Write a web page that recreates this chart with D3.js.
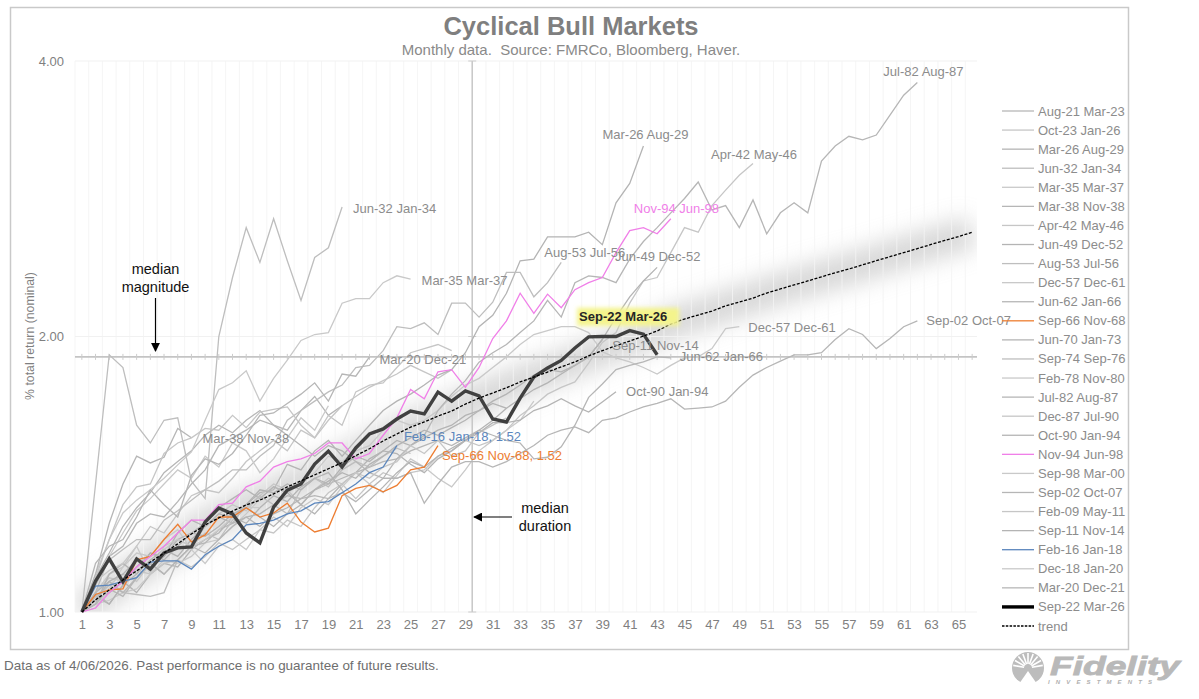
<!DOCTYPE html>
<html>
<head>
<meta charset="utf-8">
<script src="https://cdn.jsdelivr.net/npm/d3@7"></script>
<style>
    html, body { margin: 0; padding: 0; background: #fff; }
    text { font-family: "Liberation Sans", Arial, sans-serif; }
</style>
</head>
<body>
<svg id="chart" width="1199" height="699"></svg>
<script>

// Values are cumulative return multiples, one per month since the market low
const aug21 = [1,1.09,1.16,1.24,1.30,1.35,1.42,1.46,1.50,1.56,1.60,1.57,1.62,1.66,1.60,1.58,1.66,1.72,1.64,1.68];
const oct23 = [1,1.05,1.10,1.12,1.18,1.24,1.22,1.28,1.34,1.36,1.35,1.40,1.46,1.50,1.54,1.50,1.58,1.55,1.62,1.68,1.72,1.76,1.79,1.82,1.86,1.83,1.80,1.84];
const mar26 = [1,1.05,1.02,1.07,1.10,1.14,1.17,1.15,1.20,1.24,1.27,1.25,1.31,1.35,1.36,1.45,1.43,1.50,1.54,1.48,1.54,1.60,1.66,1.70,1.73,1.77,1.815,1.84,1.92,2.05,2.11,2.23,2.42,2.43,2.57,2.57,2.57,2.60,2.52,2.80,2.94,3.23];
const jun32 = [1,1.38,1.91,1.85,1.60,1.53,1.62,1.63,1.39,1.33,2.0,2.32,2.63,2.41,2.69,2.42,2.19,2.44,2.50,2.77];
const mar35 = [1,1.10,1.2,1.283,1.325,1.36,1.40,1.448,1.496,1.62,1.75,1.78,1.835,1.70,1.80,1.885,1.98,2.01,2.02,2.175,2.20,2.20,2.29,2.33,2.31];
const mar38 = [1,1.10,1.25,1.38,1.48,1.455,1.476,1.587,1.55];
const apr42 = [1,1.03,1.07,1.10,1.08,1.13,1.17,1.20,1.18,1.24,1.28,1.31,1.29,1.34,1.38,1.36,1.31,1.36,1.40,1.38,1.33,1.38,1.42,1.40,1.42,1.43,1.48,1.50,1.54,1.52,1.54,1.58,1.64,1.68,1.73,1.76,1.784,1.87,1.97,2.02,2.175,2.30,2.32,2.47,2.63,2.60,2.78,2.89,3.0,3.09];
const jun49 = [1,1.03,1.05,1.08,1.05,1.10,1.13,1.12,1.17,1.2,1.22,1.27,1.25,1.3,1.34,1.32,1.37,1.4,1.38,1.44,1.48,1.46,1.5,1.54,1.52,1.55,1.58,1.6,1.64,1.66,1.70,1.73,1.77,1.815,1.84,1.83,1.86,1.90,1.985,2.10,2.21,2.30,2.38];
const aug53 = [1,1.07,1.14,1.17,1.2,1.2,1.26,1.29,1.325,1.36,1.39,1.43,1.43,1.48,1.52,1.62,1.66,1.70,1.74,1.77,1.85,1.86,1.93,2.05,2.04,2.07,2.01,2.175,2.175,2.10,2.18,2.35,2.35,2.21,2.29,2.41];
const dec57 = [1,1.02,1.03,1.05,1.06,1.10,1.14,1.13,1.15,1.19,1.20,1.24,1.28,1.33,1.37,1.35,1.38,1.42,1.48,1.46,1.50,1.52,1.58,1.62,1.60,1.62,1.66,1.72,1.77,1.80,1.85,1.90,1.96,2.01,2.03,2.05,2.05,2.02,1.925,1.895,1.876,1.85,1.82,1.86,1.895,1.90,1.94,2.04,2.05];
const jun62 = [1,1.02,1.06,1.04,1.09,1.13,1.10,1.14,1.18,1.19,1.23,1.25,1.27,1.28,1.31,1.34,1.33,1.36,1.38,1.40,1.42,1.44,1.46,1.47,1.50,1.52,1.54,1.52,1.55,1.58,1.56,1.54,1.53,1.47,1.476,1.515,1.60,1.716,1.775,1.84,1.86,1.876,1.90,1.895];
const sep66 = [1,1.045,1.057,1.06,1.14,1.15,1.2,1.247,1.193,1.214,1.27,1.27,1.30,1.27,1.283,1.315,1.254,1.223,1.235,1.34,1.365,1.375,1.353,1.375,1.43,1.44,1.52];
const jun70 = [1,1.04,1.02,1.07,1.12,1.16,1.14,1.18,1.22,1.25,1.30,1.33,1.36,1.33,1.37,1.35,1.31,1.28,1.33,1.38,1.42,1.47,1.50,1.49,1.45,1.42,1.47,1.50,1.54,1.58,1.62,1.67];
const sep74 = [1,1.04,1.07,1.05,1.045,1.04,1.05,1.14,1.18,1.22,1.20,1.26,1.30,1.34,1.31,1.28,1.36,1.40,1.37,1.43,1.46,1.44,1.48,1.51,1.49];
const feb78 = [1,1.01,1.06,1.12,1.16,1.15,1.20,1.23,1.17,1.13,1.18,1.20,1.17,1.23,1.27,1.24,1.30,1.33,1.31,1.37,1.42,1.38,1.35,1.41,1.47,1.44,1.40,1.37,1.43,1.50,1.54,1.58,1.62,1.70];
const jul82 = [1,1.05,1.15,1.18,1.25,1.28,1.27,1.32,1.38,1.43,1.52,1.55,1.58,1.62,1.60,1.56,1.52,1.48,1.52,1.50,1.46,1.42,1.40,1.47,1.52,1.56,1.66,1.73,1.79,1.875,1.92,1.96,2.02,2.08,2.19,2.10,2.29,2.33,2.32,2.29,2.43,2.54,2.63,2.73,2.83,2.95,2.75,2.78,2.63,2.82,2.59,2.73,2.80,2.73,3.11,3.23,3.31,3.28,3.32,3.49,3.67,3.79];
const dec87 = [1,1.05,1.09,1.08,1.11,1.10,1.13,1.14,1.12,1.15,1.19,1.17,1.20,1.23,1.22,1.26,1.24,1.30,1.35,1.38,1.42,1.40,1.44,1.46,1.52,1.49,1.54,1.48,1.50,1.57,1.60,1.63];
const oct90 = [1,1.02,1.10,1.13,1.10,1.16,1.15,1.22,1.26,1.24,1.28,1.27,1.31,1.36,1.35,1.38,1.36,1.40,1.42,1.36,1.28,1.325,1.37,1.42,1.46,1.44,1.48,1.51,1.54,1.57,1.61,1.61,1.62,1.66,1.68,1.71,1.68,1.654,1.696,1.74];
const nov94 = [1,1.01,1.05,1.08,1.12,1.15,1.18,1.22,1.26,1.26,1.31,1.315,1.37,1.39,1.44,1.46,1.47,1.49,1.53,1.53,1.47,1.49,1.56,1.63,1.75,1.71,1.83,1.84,1.76,1.85,1.99,2.08,2.23,2.12,2.225,2.15,2.25,2.29,2.32,2.47,2.61,2.63,2.59,2.69];
const sep98 = [1,1.08,1.15,1.22,1.29,1.33,1.38,1.43,1.40,1.48,1.44,1.53,1.50,1.42,1.47,1.55,1.63,1.58,1.68];
const sep02 = [1,1.03,1.08,1.05,1.09,1.13,1.10,1.14,1.18,1.16,1.20,1.24,1.27,1.24,1.28,1.30,1.33,1.34,1.33,1.35,1.32,1.36,1.40,1.40,1.42,1.315,1.38,1.44,1.46,1.46,1.44,1.46,1.49,1.52,1.56,1.58,1.593,1.57,1.62,1.63,1.654,1.675,1.69,1.71,1.666,1.67,1.675,1.70,1.76,1.815,1.85,1.88,1.91,1.91,1.92,1.985,2.04,2.01,1.94,1.99,2.05,2.08];
const feb09 = [1,1.09,1.20,1.31,1.37,1.38,1.49,1.53,1.55,1.587,1.58,1.64,1.59,1.654,1.665,1.675,1.60,1.55,1.64,1.60,1.74,1.77,1.78,1.85,1.92,1.94,1.96,1.93];
const sep11 = [1,1.05,1.08,1.10,1.14,1.12,1.15,1.20,1.22,1.21,1.24,1.28,1.30,1.27,1.24,1.28,1.31,1.36,1.39,1.42,1.40,1.45,1.48,1.52,1.55,1.58,1.56,1.59,1.62,1.66,1.69,1.67,1.71,1.75,1.78,1.82,1.86,1.90,1.985];
const feb16 = [1,1.067,1.07,1.08,1.09,1.134,1.137,1.137,1.114,1.155,1.18,1.20,1.245,1.25,1.26,1.28,1.29,1.315,1.32,1.35,1.38,1.42,1.44,1.52];
const dec18 = [1,1.08,1.11,1.13,1.18,1.10,1.18,1.20,1.18,1.20,1.23,1.27,1.30,1.30];
const mar20 = [1,1.13,1.18,1.20,1.27,1.36,1.31,1.27,1.41,1.47,1.45,1.49,1.56,1.64,1.65,1.69,1.73,1.78,1.70,1.82,1.81,1.90];
const sep22 = [1,1.081,1.143,1.079,1.143,1.114,1.16,1.175,1.178,1.254,1.299,1.280,1.220,1.190,1.302,1.359,1.380,1.451,1.499,1.440,1.511,1.565,1.585,1.625,1.658,1.646,1.739,1.70,1.744,1.722,1.625,1.613,1.713,1.806,1.848,1.883,1.943,1.998,2.0,2.0,2.03,2.012,1.910];
const trend = [1,1.031,1.057,1.084,1.109,1.134,1.160,1.187,1.217,1.245,1.267,1.289,1.309,1.325,1.346,1.370,1.391,1.412,1.434,1.456,1.482,1.508,1.538,1.565,1.592,1.613,1.637,1.658,1.687,1.713,1.735,1.758,1.784,1.806,1.829,1.853,1.876,1.905,1.930,1.954,1.977,2.002,2.028,2.064,2.090,2.111,2.132,2.160,2.181,2.203,2.231,2.254,2.277,2.300,2.324,2.348,2.370,2.395,2.420,2.445,2.470,2.495,2.521,2.547,2.571,2.600];

const seriesNames = [
    'Aug-21 Mar-23','Oct-23 Jan-26','Mar-26 Aug-29','Jun-32 Jan-34','Mar-35 Mar-37','Mar-38 Nov-38','Apr-42 May-46',
    'Jun-49 Dec-52','Aug-53 Jul-56','Dec-57 Dec-61','Jun-62 Jan-66','Sep-66 Nov-68','Jun-70 Jan-73','Sep-74 Sep-76',
    'Feb-78 Nov-80','Jul-82 Aug-87','Dec-87 Jul-90','Oct-90 Jan-94','Nov-94 Jun-98','Sep-98 Mar-00','Sep-02 Oct-07',
    'Feb-09 May-11','Sep-11 Nov-14','Feb-16 Jan-18','Dec-18 Jan-20','Mar-20 Dec-21','Sep-22 Mar-26'
];
const seriesValues = [
    aug21,oct23,mar26,jun32,mar35,mar38,apr42,jun49,aug53,dec57,jun62,sep66,jun70,sep74,
    feb78,jul82,dec87,oct90,nov94,sep98,sep02,feb09,sep11,feb16,dec18,mar20,sep22
];

const xTicks = d3.range(1, 66, 2);
const yTicks = [1, 2, 4];
const gridMonths = d3.range(0.5, 67, 1);
const errorMonths = d3.range(1, 67, 1);
const medianMagnitude = 1.9;
const medianDuration = 29.5;

const ORANGE = '#ed7d31';
const MAGENTA = '#f07fe8';
const BLUE = '#5b86bd';
const GREYS = ['#b6b6b6', '#c6c6c6', '#b4b4b4', '#bebebe', '#c9c9c9'];

// where each end of line label sits, relative to the last point
const endLabels = [
    { name: 'Jul-82 Aug-87', dx: -34, dy: -11 },
    { name: 'Mar-26 Aug-29', dx: -41, dy: -11 },
    { name: 'Apr-42 May-46', dx: -42, dy: -9 },
    { name: 'Jun-32 Jan-34', dx: 11, dy: 1 },
    { name: 'Nov-94 Jun-98', dx: -37, dy: -10, color: MAGENTA },
    { name: 'Mar-35 Mar-37', dx: 11, dy: 1 },
    { name: 'Aug-53 Jul-56', dx: -17, dy: -10 },
    { name: 'Jun-49 Dec-52', dx: -42, dy: -11 },
    { name: 'Dec-57 Dec-61', dx: 9, dy: 1 },
    { name: 'Sep-02 Oct-07', dx: 9, dy: 0 },
    { name: 'Sep-11 Nov-14', dx: 10, dy: 6 },
    { name: 'Jun-62 Jan-66', dx: 9, dy: -1 },
    { name: 'Mar-20 Dec-21', dx: 10, dy: 3 },
    { name: 'Oct-90 Jan-94', dx: 10, dy: 0 },
    { name: 'Mar-38 Nov-38', dx: 11, dy: 1 },
    { name: 'Feb-16 Jan-18', suffix: ', 1.52', dx: 7, dy: -9, color: BLUE },
    { name: 'Sep-66 Nov-68', suffix: ', 1.52', dx: 4, dy: 10, color: ORANGE }
];

const svg = d3.select('#chart');

const x = d3.scaleLinear().domain([0.5, 66.5]).range([75, 979]);
const y = d3.scaleLog().base(2).domain([1, 4]).range([612, 61]);

const line = d3.line()
    .x((d, i) => x(i + 1))
    .y(d => y(d));

const defs = svg.append('defs');
defs.append('filter')
    .attr('id', 'glow')
    .attr('filterUnits', 'userSpaceOnUse')
    .attr('x', 0).attr('y', 0).attr('width', 1199).attr('height', 699)
    .append('feGaussianBlur')
    .attr('stdDeviation', 11);
defs.append('filter')
    .attr('id', 'soft')
    .attr('x', '-20%').attr('y', '-40%').attr('width', '140%').attr('height', '180%')
    .append('feGaussianBlur')
    .attr('stdDeviation', 2);
defs.append('clipPath')
    .attr('id', 'plotClip')
    .append('rect')
    .attr('x', 75).attr('y', 61).attr('width', 902).attr('height', 551);

// outer frame
svg.append('rect')
    .attr('x', 10.5).attr('y', 7.5)
    .attr('width', 1118).attr('height', 642)
    .attr('fill', '#fff')
    .attr('stroke', '#c9c9c9')
    .attr('stroke-width', 1.5);

svg.append('text')
    .attr('x', 571).attr('y', 35)
    .attr('text-anchor', 'middle')
    .attr('font-size', 25.5)
    .attr('font-weight', 'bold')
    .attr('fill', '#7f7f7f')
    .text('Cyclical Bull Markets');

svg.append('text')
    .attr('x', 571).attr('y', 55)
    .attr('text-anchor', 'middle')
    .attr('font-size', 15)
    .attr('fill', '#8a8a8a')
    .text('Monthly data.\u00a0\u00a0Source: FMRCo, Bloomberg, Haver.');

// glow behind the trend
svg.append('g')
    .attr('clip-path', 'url(#plotClip)')
    .append('path')
    .datum(trend)
    .attr('d', line)
    .attr('fill', 'none')
    .attr('stroke', '#bdbdbd')
    .attr('stroke-width', 32)
    .attr('opacity', 0.6)
    .attr('filter', 'url(#glow)');

// light grid
svg.append('g')
    .selectAll('line')
    .data(gridMonths.filter(d => d <= 66))
    .join('line')
    .attr('x1', d => x(d)).attr('x2', d => x(d))
    .attr('y1', y(4)).attr('y2', y(1))
    .attr('stroke', '#f3f3f3')
    .attr('stroke-opacity', 0.85);

svg.append('g')
    .selectAll('line')
    .data(yTicks)
    .join('line')
    .attr('x1', 75).attr('x2', 977)
    .attr('y1', d => y(d)).attr('y2', d => y(d))
    .attr('stroke', '#f1f1f1');

// median markers
svg.append('line')
    .attr('x1', 75).attr('x2', 977)
    .attr('y1', y(medianMagnitude)).attr('y2', y(medianMagnitude))
    .attr('stroke', '#c4c4c4')
    .attr('stroke-width', 1.6);

svg.append('g')
    .selectAll('line')
    .data(errorMonths)
    .join('line')
    .attr('x1', d => x(d)).attr('x2', d => x(d))
    .attr('y1', y(medianMagnitude) - 3).attr('y2', y(medianMagnitude) + 3)
    .attr('stroke', '#cccccc');

svg.append('line')
    .attr('x1', x(medianDuration)).attr('x2', x(medianDuration))
    .attr('y1', y(4)).attr('y2', y(1))
    .attr('stroke', '#c4c4c4')
    .attr('stroke-width', 1.4);

[4, 1, 2].forEach(v => {
    svg.append('line')
        .attr('x1', x(medianDuration) - 4).attr('x2', x(medianDuration) + 4)
        .attr('y1', y(v)).attr('y2', y(v))
        .attr('stroke', '#cccccc');
});

function seriesStyle(name, i) {
    if (name === 'Sep-66 Nov-68') return { color: ORANGE, width: 1.3 };
    if (name === 'Nov-94 Jun-98') return { color: MAGENTA, width: 1.3 };
    if (name === 'Feb-16 Jan-18') return { color: BLUE, width: 1.3 };
    if (name === 'Sep-22 Mar-26') return { color: '#404040', width: 3.4 };
    return { color: GREYS[i % GREYS.length], width: 1.3 };
}

const series = seriesNames.map((name, i) => ({
    name: name,
    values: seriesValues[i],
    style: seriesStyle(name, i)
}));

// highlighted lines go on top of the grey ones
const drawOrder = series.slice().sort((a, b) => {
    const rank = s => s.name === 'Sep-22 Mar-26' ? 2 : (GREYS.includes(s.style.color) ? 0 : 1);
    return rank(a) - rank(b);
});

svg.append('g')
    .attr('fill', 'none')
    .attr('stroke-linejoin', 'miter')
    .selectAll('path')
    .data(drawOrder)
    .join('path')
    .attr('d', d => line(d.values))
    .attr('stroke', d => d.style.color)
    .attr('stroke-width', d => d.style.width);

svg.append('path')
    .datum(trend)
    .attr('d', line)
    .attr('fill', 'none')
    .attr('stroke', '#000')
    .attr('stroke-width', 1.3)
    .attr('stroke-dasharray', '3 1.6');

// end of line labels
const labelGroup = svg.append('g').attr('font-size', 13);
endLabels.forEach(label => {
    const s = series.find(d => d.name === label.name);
    const last = s.values.length;
    labelGroup.append('text')
        .attr('x', x(last) + label.dx)
        .attr('y', y(s.values[last - 1]) + label.dy)
        .attr('dominant-baseline', 'central')
        .attr('fill', label.color || '#8c8c8c')
        .text(label.name + (label.suffix || ''));
});

// current cycle label with its yellow marker
const current = series.find(d => d.name === 'Sep-22 Mar-26');
const currentX = x(current.values.length) - 78;
const currentY = y(current.values[current.values.length - 1]) - 38;
svg.append('rect')
    .attr('x', currentX - 2).attr('y', currentY - 9)
    .attr('width', 102).attr('height', 18)
    .attr('fill', '#f4f48c')
    .attr('filter', 'url(#soft)');
svg.append('text')
    .attr('x', currentX).attr('y', currentY)
    .attr('dominant-baseline', 'central')
    .attr('font-size', 13)
    .attr('font-weight', 'bold')
    .attr('fill', '#262626')
    .text(current.name);

// axes
const xAxis = d3.axisBottom(x).tickValues(xTicks).tickSize(0).tickPadding(8);
const yAxis = d3.axisLeft(y).tickValues(yTicks).tickFormat(d3.format('.2f')).tickSize(0).tickPadding(11);

const xAxisG = svg.append('g').attr('transform', 'translate(0,612)').call(xAxis);
const yAxisG = svg.append('g').attr('transform', 'translate(75,0)').call(yAxis);
[xAxisG, yAxisG].forEach(g => {
    g.select('.domain').remove();
    g.selectAll('text')
        .attr('font-family', '"Liberation Sans", Arial, sans-serif')
        .attr('font-size', 13)
        .attr('fill', '#7f7f7f');
});

svg.append('text')
    .attr('transform', 'translate(34,336) rotate(-90)')
    .attr('text-anchor', 'middle')
    .attr('font-size', 12.3)
    .attr('fill', '#7f7f7f')
    .text('% total return (nominal)');

// median annotations
function annotation(lines, cx, top) {
    svg.append('text')
        .attr('x', cx).attr('y', top)
        .attr('text-anchor', 'middle')
        .attr('font-size', 14.5)
        .attr('fill', '#111')
        .selectAll('tspan')
        .data(lines)
        .join('tspan')
        .attr('x', cx)
        .attr('dy', (d, i) => i ? 18 : 0)
        .text(d => d);
}
annotation(['median', 'magnitude'], 155.5, 274);
annotation(['median', 'duration'], 545, 513);

defs.append('marker')
    .attr('id', 'arrow')
    .attr('viewBox', '0 0 10 10')
    .attr('refX', 9).attr('refY', 5)
    .attr('markerWidth', 9).attr('markerHeight', 9)
    .attr('markerUnits', 'userSpaceOnUse')
    .attr('orient', 'auto')
    .append('path')
    .attr('d', 'M0,0L10,5L0,10Z')
    .attr('fill', '#000');

svg.append('line')
    .attr('x1', 155.5).attr('x2', 155.5)
    .attr('y1', 298).attr('y2', 351)
    .attr('stroke', '#000')
    .attr('stroke-width', 1.2)
    .attr('marker-end', 'url(#arrow)');

svg.append('line')
    .attr('x1', 512).attr('x2', 474)
    .attr('y1', 517).attr('y2', 517)
    .attr('stroke', '#000')
    .attr('stroke-width', 1.2)
    .attr('marker-end', 'url(#arrow)');

// legend
const legendY = d3.scaleLinear().domain([0, 27]).range([111, 626]);
const legendItems = seriesNames.concat(['trend']);
const legend = svg.append('g')
    .selectAll('g')
    .data(legendItems)
    .join('g')
    .attr('transform', (d, i) => `translate(0,${legendY(i)})`);

legend.append('line')
    .attr('x1', 1002).attr('x2', 1034)
    .attr('stroke', d => d === 'trend' ? '#000' : series.find(s => s.name === d).style.color)
    .attr('stroke-width', d => d === 'Sep-22 Mar-26' ? 3.4 : 1.3)
    .attr('stroke-dasharray', d => d === 'trend' ? '2.5 1.3' : null);

legend.filter(d => d === 'Sep-22 Mar-26').select('line').attr('stroke', '#000');

legend.append('text')
    .attr('x', 1038)
    .attr('dominant-baseline', 'central')
    .attr('font-size', 13)
    .attr('fill', '#8c8c8c')
    .text(d => d);

// footer
svg.append('text')
    .attr('x', 4).attr('y', 670)
    .attr('font-size', 13.45)
    .attr('fill', '#6e6e6e')
    .text('Data as of 4/06/2026. Past performance is no guarantee of future results.');

// logo
const logo = svg.append('g').attr('transform', 'translate(1028,668)');
logo.append('circle').attr('r', 16).attr('fill', '#bdbdbd');
logo.append('g')
    .selectAll('line')
    .data(d3.range(-170, -9, 20))
    .join('line')
    .attr('x1', d => 4 * Math.cos(d * Math.PI / 180))
    .attr('y1', d => 4 * Math.sin(d * Math.PI / 180))
    .attr('x2', d => 15 * Math.cos(d * Math.PI / 180))
    .attr('y2', d => 15 * Math.sin(d * Math.PI / 180))
    .attr('stroke', '#fff')
    .attr('stroke-width', 1.6);
logo.append('path')
    .attr('d', 'M-9,16L0,3L9,16Z')
    .attr('fill', '#fff');

svg.append('text')
    .attr('x', 1050).attr('y', 675)
    .attr('font-size', 26)
    .attr('font-weight', 'bold')
    .attr('font-style', 'italic')
    .attr('fill', '#b9b9b9')
    .attr('stroke', '#b9b9b9')
    .attr('stroke-width', 0.8)
    .attr('textLength', 130)
    .attr('lengthAdjust', 'spacingAndGlyphs')
    .text('Fidelity');

svg.append('text')
    .attr('x', 1048).attr('y', 684)
    .attr('font-size', 6)
    .attr('font-weight', 'bold')
    .attr('font-style', 'italic')
    .attr('fill', '#b0b0b0')
    .attr('textLength', 104)
    .text('INVESTMENTS');

</script>
</body>
</html>
